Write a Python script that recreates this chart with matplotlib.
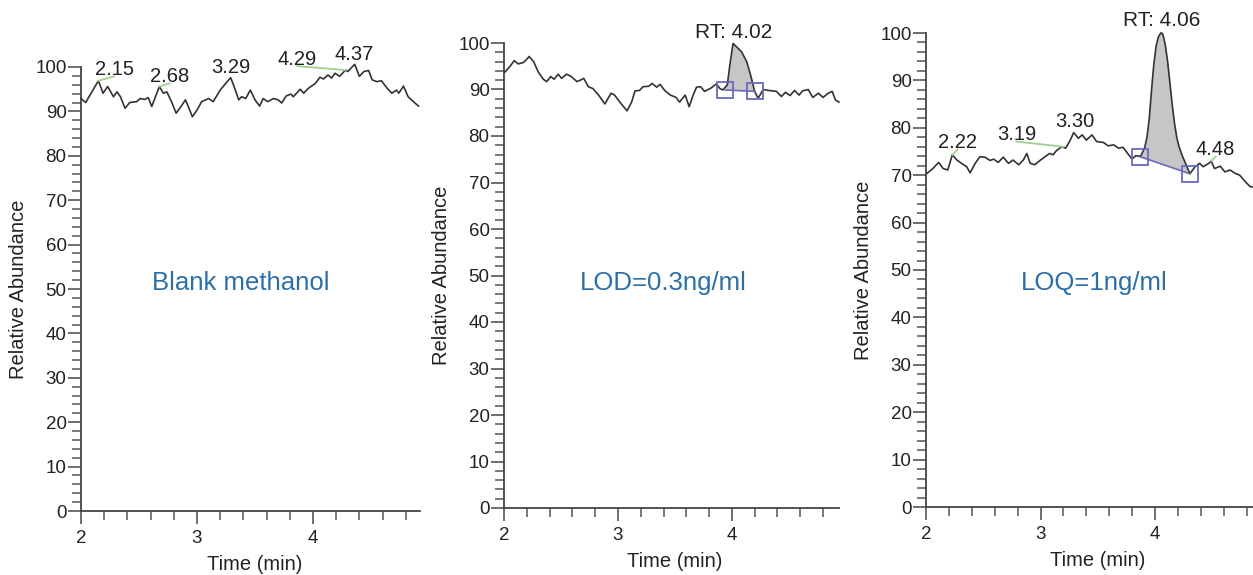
import numpy as np
from matplotlib import pyplot as plt
from matplotlib.ticker import MultipleLocator

plt.rcParams['font.family'] = ['Liberation Sans', 'DejaVu Sans']

# ---- Blank methanol trace (time in min, relative abundance)
blank_t = [2.00, 2.04, 2.15, 2.19, 2.23, 2.28, 2.31, 2.34, 2.38, 2.42, 2.48, 2.51, 2.55, 2.58, 2.61,
           2.675, 2.71, 2.74, 2.78, 2.82, 2.87, 2.90, 2.925, 2.96, 3.00, 3.04, 3.10, 3.14, 3.20, 3.26,
           3.29, 3.31, 3.36, 3.385, 3.42, 3.46, 3.50, 3.54, 3.57, 3.61, 3.66, 3.70, 3.73, 3.77, 3.81,
           3.83, 3.89, 3.92, 3.96, 4.02, 4.06, 4.09, 4.13, 4.16, 4.19, 4.23, 4.28, 4.30, 4.36, 4.40,
           4.44, 4.48, 4.51, 4.55, 4.59, 4.64, 4.68, 4.72, 4.74, 4.78, 4.82, 4.865, 4.91]
blank_v = [92.9, 92.0, 96.9, 94.1, 95.6, 93.3, 94.4, 93.3, 90.7, 92.0, 92.2, 92.9, 92.7, 93.1, 91.1,
           95.6, 94.1, 94.4, 92.2, 89.6, 91.4, 92.6, 91.1, 88.8, 90.3, 92.2, 92.9, 92.2, 94.8, 96.7,
           97.6, 96.3, 92.6, 93.3, 92.9, 94.8, 92.6, 91.2, 92.9, 92.2, 92.9, 92.6, 91.9, 93.5, 93.9,
           93.3, 95.0, 94.1, 95.2, 96.3, 97.7, 97.3, 98.2, 97.5, 98.6, 97.9, 99.3, 99.0, 100.6, 97.9,
           99.0, 99.2, 97.1, 96.7, 96.9, 95.2, 94.1, 94.8, 94.1, 95.7, 93.3, 92.2, 91.2]

# ---- LOD trace
lod_t = [2.01, 2.05, 2.09, 2.125, 2.17, 2.20, 2.22, 2.26, 2.30, 2.345, 2.375, 2.41, 2.44, 2.475, 2.505,
         2.55, 2.59, 2.64, 2.67, 2.70, 2.74, 2.78, 2.83, 2.885, 2.94, 2.97, 3.02, 3.08, 3.12, 3.15,
         3.19, 3.22, 3.27, 3.30, 3.34, 3.37, 3.41, 3.46, 3.51, 3.54, 3.59, 3.625, 3.66, 3.69, 3.725,
         3.76, 3.81, 3.865, 3.895, 3.92, 3.96, 3.98, 4.01, 4.04, 4.085, 4.13, 4.16, 4.20, 4.23, 4.275,
         4.32, 4.39, 4.435, 4.47, 4.51, 4.55, 4.59, 4.62, 4.67, 4.71, 4.76, 4.80, 4.845, 4.88, 4.91, 4.94]
lod_v = [93.8, 94.9, 96.2, 95.5, 95.8, 96.5, 97.1, 96.0, 93.8, 92.2, 91.7, 92.8, 92.2, 93.3, 92.4,
         93.3, 92.8, 91.7, 92.0, 92.4, 90.6, 90.2, 88.8, 86.9, 89.2, 88.8, 87.2, 85.4, 87.3, 89.7,
         89.8, 90.6, 90.7, 91.3, 90.5, 91.1, 89.8, 88.8, 88.3, 87.3, 88.8, 86.3, 88.8, 90.5, 90.6,
         89.6, 90.2, 91.2, 90.2, 89.9, 91.0, 94.9, 99.9, 99.2, 98.1, 96.0, 93.5, 89.6, 88.1, 90.0,
         89.8, 89.6, 88.5, 89.4, 88.7, 89.8, 88.8, 89.7, 90.0, 88.3, 89.2, 88.3, 89.2, 89.6, 87.7, 87.3]

# ---- LOQ trace
loq_t = [2.01, 2.06, 2.11, 2.15, 2.19, 2.23, 2.27, 2.31, 2.355, 2.385, 2.43, 2.47, 2.515, 2.56, 2.59,
         2.63, 2.675, 2.72, 2.76, 2.81, 2.85, 2.88, 2.91, 2.95, 3.00, 3.04, 3.08, 3.11, 3.14, 3.185,
         3.22, 3.26, 3.29, 3.33, 3.365, 3.40, 3.45, 3.49, 3.55, 3.59, 3.64, 3.68, 3.72, 3.77, 3.80,
         3.83, 3.875, 3.91, 3.93, 3.95, 3.97, 3.99, 4.01, 4.03, 4.05, 4.06, 4.07, 4.09, 4.11, 4.13,
         4.15, 4.17, 4.19, 4.21, 4.24, 4.27, 4.305, 4.35, 4.39, 4.42, 4.47, 4.49, 4.52, 4.57, 4.61,
         4.655, 4.70, 4.74, 4.79, 4.83, 4.855]
loq_v = [70.4, 71.4, 72.7, 71.4, 71.1, 74.3, 73.2, 72.5, 71.8, 70.5, 72.5, 73.9, 73.8, 73.1, 73.4,
         72.7, 73.8, 72.5, 73.2, 72.2, 73.2, 74.6, 72.5, 72.2, 73.2, 73.9, 74.6, 74.3, 75.2, 76.0,
         75.7, 77.4, 79.0, 77.8, 78.5, 77.4, 78.5, 77.1, 76.9, 76.2, 76.4, 75.7, 75.9, 74.3, 73.4,
         74.1, 74.0, 75.8, 78.0, 82.0, 88.0, 93.5, 97.3, 99.2, 100.0, 100.0, 99.6, 97.5, 94.0, 89.5,
         85.0, 81.0, 78.0, 76.0, 74.0, 72.3, 70.3, 71.8, 72.5, 71.8, 72.5, 73.0, 71.4, 71.9, 70.7,
         71.1, 70.4, 70.0, 68.6, 67.6, 67.5]

# peak labels: text, apex time, apex value
blank_labels = ['2.15', '2.68', '3.29', '4.29', '4.37']
blank_apex_t = [2.15, 2.675, 3.29, 4.28, 4.36]
blank_apex_v = [96.9, 95.6, 97.6, 99.3, 100.6]
loq_labels = ['2.22', '3.19', '3.30', '4.48']
loq_apex_t = [2.23, 3.20, 3.29, 4.49]
loq_apex_v = [74.3, 76.0, 79.0, 73.0]

# integrated peaks: boundaries (time, value)
lod_bound_t = [3.94, 4.20]
lod_bound_v = [89.9, 89.6]
loq_bound_t = [3.87, 4.305]
loq_bound_v = [73.9, 70.3]
rt_labels = ['RT: 4.02', 'RT: 4.06']

sample_names = ['Blank methanol', 'LOD=0.3ng/ml', 'LOQ=1ng/ml']

# ---- layout (pixel boxes: left, top, right, bottom) and x max
W, H = 1253, 575
boxes = [(81, 67, 419.7, 511), (504, 43, 839, 508), (926, 33, 1252.9, 507)]
xmaxs = [4.92, 4.94, 4.855]
# label text anchor positions (data coords)
blank_text_pos = [(2.287, 98.2), (2.763, 96.6), (3.29, 98.6), (3.866, 100.5), (4.353, 101.6)]
loq_text_pos = [(2.277, 75.7), (2.79, 77.4), (3.30, 80.2), (4.53, 74.2)]
rt_pos = [(4.018, 101.1), (4.06, 101.5)]
name_pos = [(3.38, 51.4), (3.40, 48.4), (3.47, 47.3)]

txt_col = '#222222'
axis_col = '#555555'
line_col = '#333333'
green = '#9fd08f'
box_col = '#6a6abf'

fig = plt.figure(figsize=(W / 100, H / 100), dpi=100)

traces = [(blank_t, blank_v), (lod_t, lod_v), (loq_t, loq_v)]
axes = []
for i, (l, t, r, b) in enumerate(boxes):
    ax = fig.add_axes([l / W, (H - b) / H, (r - l) / W, (b - t) / H])
    axes.append(ax)
    ax.set_xlim(2, xmaxs[i])
    ax.set_ylim(0, 100)
    for s in ['top', 'right']:
        ax.spines[s].set_visible(False)
    for s in ['left', 'bottom']:
        ax.spines[s].set_color('#444444')
        ax.spines[s].set_linewidth(1.3)
    ax.set_xticks([2, 3, 4])
    ax.xaxis.set_minor_locator(MultipleLocator(0.2))
    ax.yaxis.set_major_locator(MultipleLocator(10))
    ax.yaxis.set_minor_locator(MultipleLocator(2))
    ax.tick_params(which='major', direction='out', length=9.4, width=1.2, color=axis_col,
                   labelsize=13.5, labelcolor=txt_col)
    ax.tick_params(which='minor', direction='out', length=6.5, width=1.1, color=axis_col)
    ax.tick_params(axis='y', which='major', pad=1)
    ax.tick_params(axis='x', which='major', pad=4)
    ax.set_xlabel('Time (min)', fontsize=14.5, color=txt_col)
    ax.xaxis.set_label_coords(1.5 / (xmaxs[i] - 2), -44 / (b - t))
    ax.xaxis.label.set_va('top')
    ax.set_ylabel('Relative Abundance', fontsize=14.5, color=txt_col)
    ax.yaxis.set_label_coords(-53 / (r - l), 0.5)

    tt, vv = traces[i]
    ax.plot(tt, vv, color=line_col, lw=1.2, clip_on=False, zorder=3)
    ax.text(name_pos[i][0], name_pos[i][1], sample_names[i], fontsize=18.5, color='#2a6fa8',
            ha='center', va='center')


def label_peaks(ax, labels, apex_t, apex_v, pos):
    for lab, at, av, (px, py) in zip(labels, apex_t, apex_v, pos):
        ax.text(px, py, lab, fontsize=14.5, color=txt_col, ha='center', va='baseline', zorder=5)
        if abs(px - at) > 0.03:
            ax.plot([at, px], [av, py - 0.3], color=green, lw=1.3, zorder=4, clip_on=False)


def mark_peak(ax, tt, vv, bt, bv, rt_label, rpos):
    tt = np.array(tt)
    vv = np.array(vv)
    sel = (tt >= bt[0]) & (tt <= bt[1])
    xs = np.concatenate([[bt[0]], tt[sel], [bt[1]]])
    ys = np.concatenate([[np.interp(bt[0], tt, vv)], vv[sel], [np.interp(bt[1], tt, vv)]])
    base = np.interp(xs, bt, bv)
    ax.fill_between(xs, base, ys, where=ys >= base, color='#c6c6c6', zorder=2, lw=0)
    ax.plot(bt, bv, color=box_col, lw=1.2, zorder=4)
    ax.plot(bt, bv, ls='none', marker='s', ms=11.5, mfc='none', mec=box_col, mew=1.3, zorder=5)
    ax.text(rpos[0], rpos[1], rt_label, fontsize=15, color=txt_col, ha='center', va='baseline',
            clip_on=False)


label_peaks(axes[0], blank_labels, blank_apex_t, blank_apex_v, blank_text_pos)
label_peaks(axes[2], loq_labels, loq_apex_t, loq_apex_v, loq_text_pos)
mark_peak(axes[1], lod_t, lod_v, lod_bound_t, lod_bound_v, rt_labels[0], rt_pos[0])
mark_peak(axes[2], loq_t, loq_v, loq_bound_t, loq_bound_v, rt_labels[1], rt_pos[1])

plt.savefig('out.png', dpi=100)
